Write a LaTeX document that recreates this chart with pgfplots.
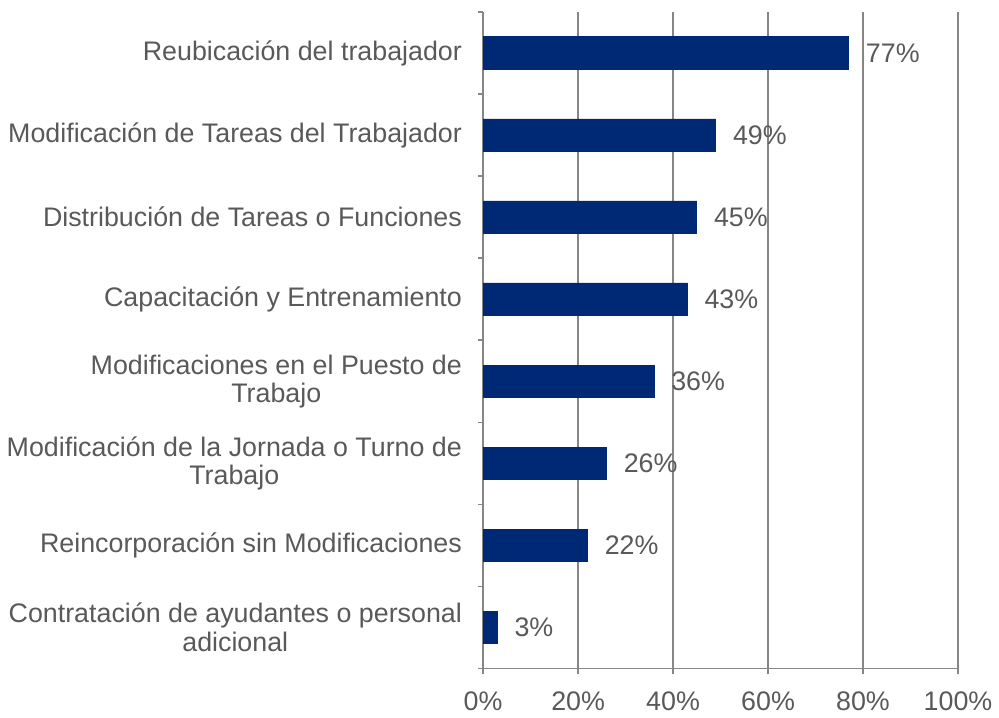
\documentclass[border=0pt]{standalone}
\usepackage{pgfplots}
\pgfplotsset{compat=1.18}
\usepackage{fontspec}
\setmainfont{Liberation Sans}
\definecolor{barblue}{RGB}{0,41,117}
\definecolor{txtgray}{RGB}{89,89,89}
\definecolor{gridgray}{RGB}{134,134,134}
\begin{document}
\begin{tikzpicture}
\begin{axis}[
  scale only axis,
  width=235.5pt, height=325.5pt,
  xbar, bar width=16.1pt,
  xmin=0, xmax=100,
  ymin=0.5, ymax=8.5,
  xtick={0,20,40,60,80,100},
  xticklabel={\pgfmathprintnumber{\tick}\%},
  ytick={1,2,3,4,5,6,7,8},
  yticklabels={{Contratación de ayudantes o personal\\adicional},
    {Reincorporación sin Modificaciones},
    {Modificación de la Jornada o Turno de\\Trabajo},
    {Modificaciones en el Puesto de\\Trabajo},
    {Capacitación y Entrenamiento},
    {Distribución de Tareas o Funciones},
    {Modificación de Tareas del Trabajador},
    {Reubicación del trabajador}},
  yticklabel style={align=center, font=\fontsize{13.3}{14}\selectfont, text=txtgray, xshift=-7pt},
  xticklabel style={font=\fontsize{13.3}{14}\selectfont, text=txtgray, yshift=-8pt},
  /pgf/number format/assume math mode=true,
  minor ytick={0.5,1.5,2.5,3.5,4.5,5.5,6.5,7.5,8.5},
  major tick length=0pt,
  minor tick length=2.5pt,
  xtick style={draw=gridgray, line width=0.75pt},
  minor y tick style={draw=gridgray, line width=0.75pt},
  tick align=outside,
  extra x ticks={0,20,40,60,80,100},
  extra x tick labels={},
  extra x tick style={major tick length=3pt, grid=none, tick style={draw=gridgray, line width=0.75pt}},
  xmajorgrids,
  major grid style={draw=gridgray, line width=0.75pt},
  axis x line*=bottom,
  axis y line*=left,
  axis line style={draw=gridgray, line width=0.75pt, -},
  enlargelimits=false,
  nodes near coords={\pgfmathprintnumber{\pgfplotspointmeta}\%},
  nodes near coords style={anchor=west, xshift=5pt, text=txtgray, font=\fontsize{13.3}{14}\selectfont},
]
\addplot[fill=barblue, draw=barblue] coordinates {
  (3,1) (22,2) (26,3) (36,4) (43,5) (45,6) (49,7) (77,8)
};
\end{axis}
\path ([yshift=6pt]current axis.north);
\end{tikzpicture}
\end{document}
